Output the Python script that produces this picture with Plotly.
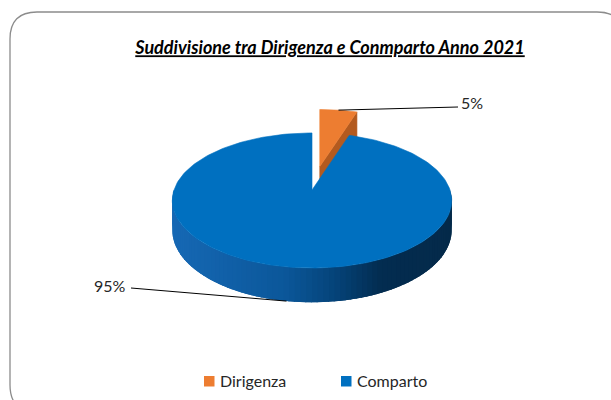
import math
import plotly.graph_objects as go

# ---- data ----
labels = ["Dirigenza", "Comparto"]
values = [5, 95]
top_colors = ["#ED7D31", "#0070C0"]
cut_colors = ["#B35A1F", "#0A4F8E"]
explode = [0.36, 0.0]
title_text = "Suddivisione tra Dirigenza e Conmparto Anno 2021"

# ---- geometry / style ----
W, H = 611, 400
CX, CY = 312, 190
RX, RY = 138, 65.9
K = 0.155
D = 29
FONT = "Lato"
wall_stops = [(0.0, (0x16, 0x68, 0xB4)), (0.40, (0x0B, 0x57, 0x9A)),
              (0.58, (0x05, 0x44, 0x7A)), (0.75, (0x03, 0x2C, 0x50)),
              (1.0, (0x04, 0x2A, 0x4A))]


def proj(theta_deg, r=1.0, h=0.0, off=(0.0, 0.0)):
    t = math.radians(theta_deg)
    z = r * math.cos(t)
    xx = r * math.sin(t)
    s = 1.0 / (1.0 + K * z)
    return CX + RX * xx * s + off[0], CY - RY * z * s + D * s * h + off[1]


def wall_color(x):
    f = (x - (CX - RX)) / (2 * RX)
    f = max(0.0, min(1.0, f))
    for (f0, c0), (f1, c1) in zip(wall_stops[:-1], wall_stops[1:]):
        if f0 <= f <= f1:
            u = (f - f0) / (f1 - f0) if f1 > f0 else 0
            c = [round(a + (b - a) * u) for a, b in zip(c0, c1)]
            return "rgb(%d,%d,%d)" % tuple(c)
    return "rgb(%d,%d,%d)" % wall_stops[-1][1]


def poly(pts, color, name=None, lw=0.6):
    xs = [p[0] for p in pts] + [pts[0][0]]
    ys = [p[1] for p in pts] + [pts[0][1]]
    return go.Scatter(x=xs, y=ys, mode="lines", fill="toself", fillcolor=color,
                      line=dict(color=color, width=lw),
                      hoverinfo="skip" if name is None else "text",
                      text=name, showlegend=False)


total = sum(values)
angles = []
a = 0.0
for v in values:
    angles.append((a, a + 360.0 * v / total))
    a += 360.0 * v / total

offsets = []
for (a0, a1), e in zip(angles, explode):
    m = math.radians((a0 + a1) / 2)
    offsets.append((e * RX * math.sin(m), -e * RY * math.cos(m)))

fig = go.Figure()

# draw slices back (first) to front
for i, ((a0, a1), off) in enumerate(zip(angles, offsets)):
    name = "%s: %d%%" % (labels[i], round(100 * values[i] / total))
    arc = [a0 + (a1 - a0) * k / 200 for k in range(201)]
    # outer wall (front half only), drawn as overlapping strips for a smooth gradient
    lo, hi = max(a0, 90.0), min(a1, 270.0)
    if hi > lo:
        n = 90
        step = (hi - lo) / n
        for k in range(n):
            t0 = lo + step * k
            t1 = min(hi, t0 + step * 2.2)
            sub = [t0 + (t1 - t0) * j / 4 for j in range(5)]
            p = [proj(t, off=off) for t in sub] + [proj(t, h=1, off=off) for t in reversed(sub)]
            xm = proj(t0 + step / 2, off=off)[0]
            fig.add_trace(poly(p, wall_color(xm), lw=0))
    # visible cut face (end side of an exploded back slice)
    if explode[i] > 0:
        p = [proj(0, r=0, off=off), proj(a1, off=off), proj(a1, h=1, off=off), proj(0, r=0, h=1, off=off)]
        fig.add_trace(poly(p, cut_colors[i]))
    # top face
    pts = [proj(0, r=0, off=off)] + [proj(t, off=off) for t in arc]
    fig.add_trace(poly(pts, top_colors[i], name))

# data labels with leader lines
label_pos = [(472, 102, 458, 107, 0.0), (110, 285, 131, 288, 1.0)]
for i, ((a0, a1), off) in enumerate(zip(angles, offsets)):
    tx, ty, lx, ly, h = label_pos[i]
    sx, sy = proj((a0 + a1) / 2, h=h, off=off)
    fig.add_trace(go.Scatter(x=[sx, lx], y=[sy, ly], mode="lines",
                             line=dict(color="#000000", width=1), hoverinfo="skip", showlegend=False))
    fig.add_annotation(x=tx, y=ty, xref="x", yref="y", showarrow=False,
                       text="%d%%" % round(100 * values[i] / total),
                       font=dict(family=FONT, size=16, color="#262626"))

# legend (manual)
leg_x = [204, 341]
for i, lab in enumerate(labels):
    fig.add_shape(type="rect", xref="x", yref="y", x0=leg_x[i], x1=leg_x[i] + 10.5,
                  y0=376, y1=386.5, fillcolor=top_colors[i], line=dict(width=0))
    fig.add_annotation(x=leg_x[i] + 14, y=380.5, xref="x", yref="y", showarrow=False,
                       xanchor="left", yanchor="middle", text=lab,
                       font=dict(family=FONT, size=16, color="#262626"))

# rounded chart border
x0, y0, x1, y1, r = 10, 12, 624, 412, 27
path = (f"M {x0+r},{y0} L {x1-r},{y0} Q {x1},{y0} {x1},{y0+r} L {x1},{y1-r} "
        f"Q {x1},{y1} {x1-r},{y1} L {x0+r},{y1} Q {x0},{y1} {x0},{y1-r} "
        f"L {x0},{y0+r} Q {x0},{y0} {x0+r},{y0} Z")
fig.add_shape(type="path", path=path, xref="x", yref="y",
              line=dict(color="#8C8C8C", width=1.3), fillcolor="rgba(0,0,0,0)", layer="below")

fig.update_layout(
    width=W, height=H, margin=dict(l=0, r=0, t=0, b=0),
    paper_bgcolor="white", plot_bgcolor="white",
    title=dict(text="<b><i><u>%s</u></i></b>" % title_text, x=330 / W, y=1 - 48 / H,
               xanchor="center", yanchor="middle",
               font=dict(family=FONT, size=18, color="#000000")),
    xaxis=dict(visible=False, range=[0, W], fixedrange=True),
    yaxis=dict(visible=False, range=[H, 0], fixedrange=True),
    showlegend=False,
)

fig.write_html("out.html")
